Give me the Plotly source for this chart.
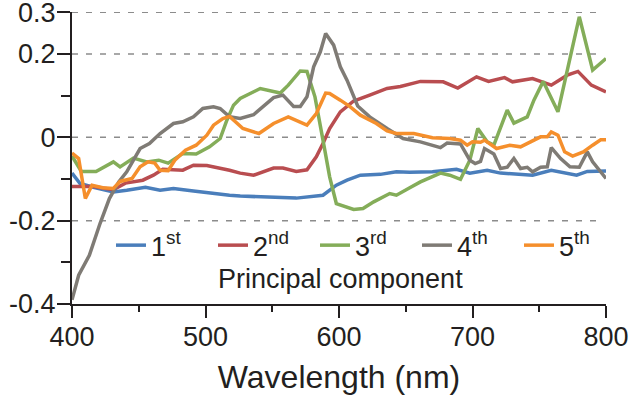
import plotly.graph_objects as go

# ---- data ----
wl_pc1 = [400, 406, 416, 431, 441, 455, 466, 476, 491, 503, 518, 526, 543, 568, 588, 598, 606, 616, 631, 643, 653, 670, 688, 698, 711, 721, 745, 759, 778, 786, 800]
pc1 = [-0.086, -0.111, -0.12, -0.131, -0.127, -0.12, -0.127, -0.123, -0.129, -0.134, -0.139, -0.141, -0.143, -0.146, -0.139, -0.115, -0.103, -0.091, -0.089, -0.083, -0.084, -0.083, -0.077, -0.086, -0.079, -0.086, -0.091, -0.079, -0.091, -0.082, -0.081]

wl_pc2 = [400, 416, 431, 440, 453, 461, 468, 483, 491, 501, 518, 526, 536, 551, 558, 568, 576, 583, 588, 593, 601, 611, 623, 636, 646, 661, 678, 689, 703, 712, 724, 730, 745, 759, 771, 779, 789, 800]
pc2 = [-0.118, -0.118, -0.126, -0.11, -0.103, -0.091, -0.077, -0.079, -0.067, -0.068, -0.079, -0.086, -0.091, -0.074, -0.074, -0.082, -0.078, -0.047, -0.015, 0.021, 0.061, 0.087, 0.101, 0.117, 0.122, 0.134, 0.133, 0.118, 0.145, 0.134, 0.143, 0.133, 0.141, 0.125, 0.149, 0.158, 0.125, 0.109]

wl_pc3 = [400, 407, 418, 431, 436, 446, 456, 465, 472, 483, 493, 503, 511, 516, 521, 526, 541, 556, 562, 571, 576, 582, 588, 593, 598, 603, 611, 618, 626, 638, 643, 653, 661, 676, 683, 691, 698, 704, 711, 716, 726, 731, 741, 746, 753, 764, 780, 790, 800]
pc3 = [-0.045, -0.082, -0.082, -0.059, -0.071, -0.05, -0.059, -0.055, -0.062, -0.039, -0.04, -0.023, -0.003, 0.041, 0.077, 0.093, 0.117, 0.106, 0.125, 0.159, 0.158, 0.097, -0.007, -0.095, -0.159, -0.165, -0.173, -0.171, -0.155, -0.135, -0.139, -0.121, -0.107, -0.086, -0.091, -0.101, -0.055, 0.021, -0.011, -0.019, 0.065, 0.034, 0.049, 0.089, 0.134, 0.061, 0.289, 0.161, 0.189]

wl_pc4 = [400, 405, 413, 421, 428, 435, 441, 451, 458, 466, 476, 483, 491, 498, 506, 511, 518, 526, 536, 551, 558, 566, 571, 576, 581, 586, 590, 596, 601, 606, 614, 623, 636, 648, 661, 676, 681, 691, 698, 702, 706, 709, 716, 721, 726, 731, 736, 741, 745, 751, 756, 759, 766, 773, 780, 786, 790, 800]
pc4 = [-0.39, -0.331, -0.283, -0.207, -0.147, -0.107, -0.083, -0.027, -0.015, 0.009, 0.033, 0.037, 0.049, 0.069, 0.073, 0.069, 0.049, 0.045, 0.054, 0.095, 0.101, 0.074, 0.074, 0.097, 0.169, 0.205, 0.249, 0.221, 0.169, 0.137, 0.075, 0.049, 0.021, -0.003, -0.011, -0.025, -0.014, -0.016, -0.055, -0.063, -0.058, -0.027, -0.04, -0.075, -0.072, -0.051, -0.075, -0.072, -0.083, -0.072, -0.071, -0.025, -0.051, -0.071, -0.072, -0.035, -0.059, -0.099]

wl_pc5 = [400, 405, 410, 415, 423, 431, 436, 445, 451, 457, 462, 466, 472, 477, 485, 493, 501, 506, 513, 518, 528, 540, 551, 562, 576, 583, 590, 593, 601, 608, 616, 628, 636, 643, 656, 670, 683, 691, 696, 700, 706, 709, 718, 728, 736, 745, 751, 756, 759, 764, 769, 775, 783, 790, 796, 800]
pc5 = [-0.038, -0.051, -0.147, -0.115, -0.121, -0.123, -0.106, -0.099, -0.071, -0.059, -0.062, -0.079, -0.08, -0.055, -0.031, -0.019, 0.005, 0.029, 0.045, 0.05, 0.021, 0.009, 0.033, 0.049, 0.029, 0.057, 0.106, 0.105, 0.089, 0.074, 0.053, 0.033, 0.015, 0.009, 0.009, -0.001, -0.003, -0.007, -0.019, -0.011, -0.012, -0.007, -0.027, -0.019, -0.023, -0.009, 0.001, 0.001, 0.013, 0.005, -0.035, -0.045, -0.035, -0.019, -0.006, -0.006]

series_names = ["1<sup>st</sup>", "2<sup>nd</sup>", "3<sup>rd</sup>", "4<sup>th</sup>", "5<sup>th</sup>"]
series_colors = ["#4a7ebb", "#b94d50", "#84ad59", "#7f7b75", "#f58f2c"]

x_ticks = [400, 500, 600, 700, 800]
y_ticks = [-0.4, -0.2, 0, 0.2, 0.3]
y_ticklabels = ["-0.4", "-0.2", "0", "0.2", "0.3"]
grid_vals = [-0.2, 0, 0.2, 0.3]

FONT = "Liberation Sans, Arial, sans-serif"
TXT = "#231f20"

fig = go.Figure()
for wl, vals, name, col in zip(
    [wl_pc1, wl_pc2, wl_pc3, wl_pc4, wl_pc5],
    [pc1, pc2, pc3, pc4, pc5],
    series_names, series_colors,
):
    fig.add_trace(go.Scatter(x=wl, y=vals, mode="lines", name=name,
                             line=dict(color=col, width=3.5)))

for gv in grid_vals:
    fig.add_shape(type="line", xref="paper", yref="y", x0=0, x1=0.983, y0=gv, y1=gv,
                  line=dict(color="#8c8c8c", width=1.5, dash="6px,8px"), layer="below")

fig.update_layout(
    width=633, height=404,
    margin=dict(l=72, r=27, t=12, b=100, autoexpand=False),
    paper_bgcolor="white", plot_bgcolor="white",
    font=dict(family=FONT, color=TXT, size=27),
    legend=dict(orientation="h", x=0.073, y=0.2, xanchor="left", yanchor="middle",
                bgcolor="rgba(0,0,0,0)", font=dict(size=27, color=TXT),
                entrywidth=57, entrywidthmode="pixels", traceorder="normal",
                itemclick=False),
    annotations=[dict(text="Principal component", x=0.503, y=0.085, xref="paper", yref="paper",
                      xanchor="center", yanchor="middle", showarrow=False,
                      font=dict(size=27, color=TXT, family=FONT))],
)
fig.update_xaxes(
    range=[400, 800], tickvals=x_ticks, ticks="outside", ticklen=12, tickwidth=2,
    tickcolor="#231f20", showline=True, linecolor="#231f20", linewidth=2,
    showgrid=False, zeroline=False, tickfont=dict(size=27), automargin=False,
    ticklabelstandoff=-4, ticklabeloverflow="allow",
    minor=dict(dtick=50, tick0=400, ticks="outside", ticklen=6, tickwidth=2, tickcolor="#231f20", showgrid=False),
    title=dict(text="Wavelength (nm)", font=dict(size=32), standoff=14),
)
fig.update_yaxes(
    range=[-0.4, 0.3005], tickvals=y_ticks, ticktext=y_ticklabels, ticks="outside", ticklen=13,
    tickwidth=2, tickcolor="#231f20", showline=True, linecolor="#231f20", linewidth=2,
    showgrid=False, zeroline=False, tickfont=dict(size=27), automargin=False, ticklabelstandoff=-4,
    ticklabeloverflow="allow",
    minor=dict(dtick=0.1, tick0=0, ticks="outside", ticklen=9, tickwidth=2, tickcolor="#231f20", showgrid=False),
)

fig.write_html("out.html", config={"displayModeBar": False},
               post_script="document.body.style.margin='0px';")
